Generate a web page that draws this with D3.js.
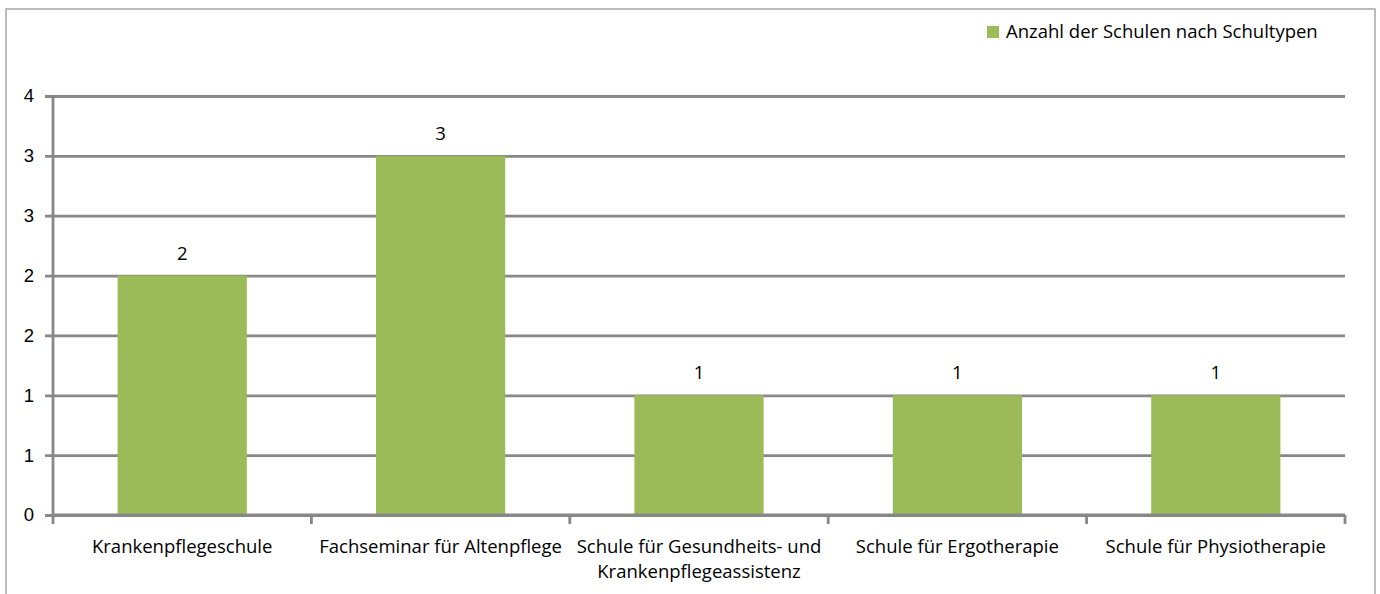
<!DOCTYPE html>
<html>
<head>
<meta charset="utf-8">
<script src="https://cdn.jsdelivr.net/npm/d3@7"></script>
<style>
  html, body { margin: 0; padding: 0; background: #fff; }
  svg { display: block; font-family: "Open Sans", "Noto Sans", sans-serif; }
</style>
</head>
<body>
<div id="chart"></div>
<script>
const categories = [
  "Krankenpflegeschule",
  "Fachseminar für Altenpflege",
  "Schule für Gesundheits- und Krankenpflegeassistenz",
  "Schule für Ergotherapie",
  "Schule für Physiotherapie"
];
const values = [2, 3, 1, 1, 1];
const yTicks = [0, 0.5, 1, 1.5, 2, 2.5, 3, 3.5];
const seriesName = "Anzahl der Schulen nach Schultypen";

const width = 1380, height = 594;
const margin = { left: 53, right: 35, top: 96, bottom: 79 };
const grey = "#888888";
const green = "#9BBB59";
const fontSize = "18.5px";

const svg = d3.select("#chart").append("svg")
  .attr("width", width)
  .attr("height", height);

// outer chart border
svg.append("rect")
  .attr("x", 6).attr("y", 9)
  .attr("width", 1369).attr("height", 600)
  .attr("fill", "none")
  .attr("stroke", "#a6a6a6")
  .attr("stroke-width", 1.5);

const x = d3.scaleBand()
  .domain(categories)
  .range([margin.left, width - margin.right])
  .paddingInner(0.5)
  .paddingOuter(0.25);

const y = d3.scaleLinear()
  .domain([0, 3.5])
  .range([height - margin.bottom, margin.top]);

// gridlines + y ticks
const yAxis = d3.axisLeft(y)
  .tickValues(yTicks)
  .tickSize(-(width - margin.right - margin.left))
  .tickFormat(d => d3.format(".0f")(d));

const gy = svg.append("g")
  .attr("transform", `translate(${margin.left},0)`)
  .call(yAxis);
gy.select(".domain").remove();
gy.selectAll(".tick line")
  .attr("x1", -8)
  .attr("stroke", grey)
  .attr("stroke-width", 2.8);
gy.selectAll(".tick text")
  .attr("x", -19)
  .attr("fill", "#000")
  .style("font-size", fontSize);

// bars
svg.append("g").selectAll("rect")
  .data(values)
  .join("rect")
  .attr("x", (d, i) => x(categories[i]))
  .attr("y", d => y(d))
  .attr("width", x.bandwidth())
  .attr("height", d => y(0) - y(d))
  .attr("fill", green);

// value labels
svg.append("g").selectAll("text")
  .data(values)
  .join("text")
  .attr("x", (d, i) => x(categories[i]) + x.bandwidth() / 2)
  .attr("y", d => y(d) - 16)
  .attr("text-anchor", "middle")
  .style("font-size", fontSize)
  .text(d => d);

// y axis line
svg.append("line")
  .attr("x1", margin.left).attr("x2", margin.left)
  .attr("y1", y(3.5)).attr("y2", y(0))
  .attr("stroke", grey).attr("stroke-width", 2.8);

// x axis line + category boundary ticks
const step = x.step();
const boundaries = d3.range(categories.length + 1).map(i => margin.left + i * step);
svg.append("line")
  .attr("x1", margin.left).attr("x2", width - margin.right)
  .attr("y1", y(0)).attr("y2", y(0))
  .attr("stroke", grey).attr("stroke-width", 2.8);
svg.append("g").selectAll("line")
  .data(boundaries)
  .join("line")
  .attr("x1", d => d).attr("x2", d => d)
  .attr("y1", y(0)).attr("y2", y(0) + 9)
  .attr("stroke", grey).attr("stroke-width", 2.8);

// category labels (wrapped)
const wrapWidth = step - 2;
const labels = svg.append("g").selectAll("text")
  .data(categories)
  .join("text")
  .attr("x", d => x(d) + x.bandwidth() / 2)
  .attr("y", y(0) + 38)
  .attr("text-anchor", "middle")
  .style("font-size", fontSize);

labels.each(function(d) {
  const t = d3.select(this);
  const words = d.split(" ");
  let line = [];
  let tspan = t.append("tspan").attr("x", t.attr("x")).attr("dy", 0);
  words.forEach(w => {
    line.push(w);
    tspan.text(line.join(" "));
    if (tspan.node().getComputedTextLength() > wrapWidth && line.length > 1) {
      line.pop();
      tspan.text(line.join(" "));
      line = [w];
      tspan = t.append("tspan").attr("x", t.attr("x")).attr("dy", 25).text(w);
    }
  });
});

// legend
const legend = svg.append("g").attr("transform", "translate(987,26)");
legend.append("rect")
  .attr("width", 12).attr("height", 12)
  .attr("fill", green);
legend.append("text")
  .attr("x", 19).attr("y", 6)
  .attr("dy", "0.35em")
  .style("font-size", fontSize)
  .text(seriesName);
</script>
</body>
</html>
